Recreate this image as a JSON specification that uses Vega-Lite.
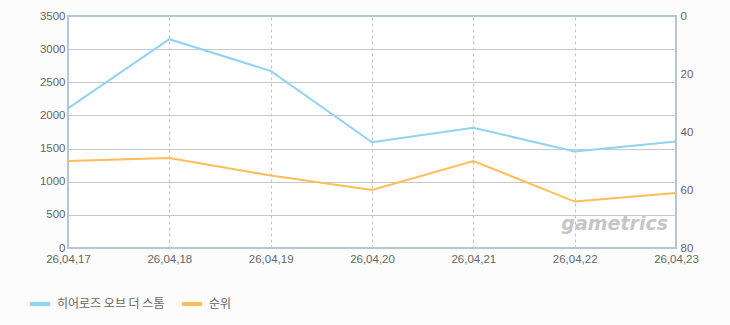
{
  "$schema": "https://vega.github.io/schema/vega-lite/v6.json",
  "width": 608,
  "height": 232,
  "autosize": "none",
  "padding": {"left": 68, "top": 16, "right": 54, "bottom": 77},
  "background": "#fcfcfc",
  "config": {
    "view": {"stroke": "#b4c6d8", "strokeWidth": 2, "fill": "#ffffff"},
    "font": "Liberation Sans",
    "axis": {"labelColor": "#666666", "labelFontSize": 11.5, "labelFont": "Liberation Sans", "title": null, "domain": false, "ticks": false}
  },
  "data": {
    "values": [
      {"date": "26,04,17", "series": "히어로즈 오브 더 스톰", "value": 2107},
      {"date": "26,04,18", "series": "히어로즈 오브 더 스톰", "value": 3150},
      {"date": "26,04,19", "series": "히어로즈 오브 더 스톰", "value": 2670},
      {"date": "26,04,20", "series": "히어로즈 오브 더 스톰", "value": 1595},
      {"date": "26,04,21", "series": "히어로즈 오브 더 스톰", "value": 1815},
      {"date": "26,04,22", "series": "히어로즈 오브 더 스톰", "value": 1455},
      {"date": "26,04,23", "series": "히어로즈 오브 더 스톰", "value": 1605},
      {"date": "26,04,17", "series": "순위", "value": 50},
      {"date": "26,04,18", "series": "순위", "value": 49},
      {"date": "26,04,19", "series": "순위", "value": 55},
      {"date": "26,04,20", "series": "순위", "value": 60},
      {"date": "26,04,21", "series": "순위", "value": 50},
      {"date": "26,04,22", "series": "순위", "value": 64},
      {"date": "26,04,23", "series": "순위", "value": 61}
    ]
  },
  "encoding": {
    "x": {
      "field": "date",
      "type": "ordinal",
      "sort": null,
      "scale": {"type": "point", "padding": 0, "domain": ["26,04,17", "26,04,18", "26,04,19", "26,04,20", "26,04,21", "26,04,22", "26,04,23"]},
      "axis": {
        "labelAngle": 0,
        "grid": true,
        "gridColor": {"condition": {"test": "datum.value === '26,04,17' || datum.value === '26,04,23'", "value": "transparent"}, "value": "#c4c4c4"},
        "gridDash": [3, 3],
        "labelPadding": 5
      }
    }
  },
  "layer": [
    {
      "data": {"values": [{"label": "gametrics"}]},
      "mark": {"type": "text", "font": "DejaVu Sans", "fontSize": 19, "fontWeight": "bold", "fontStyle": "italic", "align": "right", "baseline": "alphabetic", "dx": -8, "color": "#c6c6c6"},
      "encoding": {
        "text": {"field": "label"},
        "x": {"datum": "26,04,23"},
        "y": {"datum": 73.8, "type": "quantitative", "scale": {"domain": [0, 80], "reverse": true, "nice": false}, "axis": null}
      }
    },
    {
      "transform": [{"filter": "datum.series === '히어로즈 오브 더 스톰'"}],
      "mark": {"type": "line", "strokeWidth": 2},
      "encoding": {
        "y": {
          "field": "value",
          "type": "quantitative",
          "scale": {"domain": [0, 3500], "nice": false},
          "axis": {
            "orient": "left",
            "format": "d",
            "values": [0, 500, 1000, 1500, 2000, 2500, 3000, 3500],
            "grid": true,
            "gridColor": {"condition": {"test": "datum.value === 0 || datum.value === 3500", "value": "transparent"}, "value": "#c8c8c8"},
            "labelPadding": 3
          }
        },
        "color": {
          "field": "series",
          "type": "nominal",
          "scale": {"domain": ["히어로즈 오브 더 스톰", "순위"], "range": ["#92d2f2", "#ffbe5a"]},
          "legend": {
            "orient": "none",
            "legendX": -40,
            "legendY": 276,
            "direction": "horizontal",
            "title": null,
            "symbolType": "stroke",
            "symbolStrokeWidth": 4,
            "symbolSize": 400,
            "labelFont": "Noto Sans CJK KR",
            "labelFontSize": 12,
            "labelColor": "#666666",
            "labelOffset": 5,
            "columnPadding": 9
          }
        }
      }
    },
    {
      "transform": [{"filter": "datum.series === '순위'"}],
      "mark": {"type": "line", "strokeWidth": 2},
      "encoding": {
        "y": {
          "field": "value",
          "type": "quantitative",
          "scale": {"domain": [0, 80], "reverse": true, "nice": false},
          "axis": {"orient": "right", "values": [0, 20, 40, 60, 80], "grid": false, "labelPadding": 4}
        },
        "color": {"field": "series", "type": "nominal"}
      }
    }
  ],
  "resolve": {"scale": {"y": "independent"}}
}
